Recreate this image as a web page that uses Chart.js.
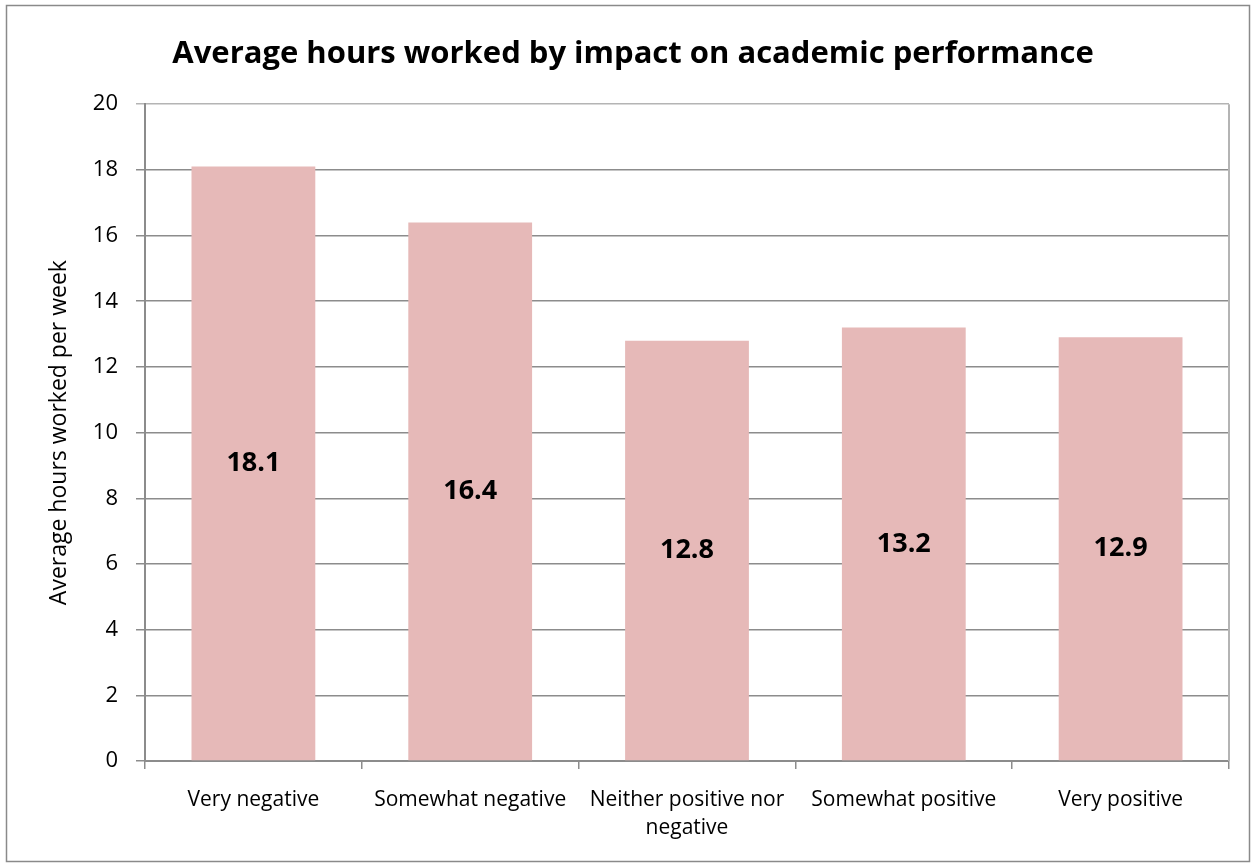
<!DOCTYPE html>
<html>
<head>
<meta charset="utf-8">
<script src="https://cdn.jsdelivr.net/npm/chart.js@4.4.0/dist/chart.umd.min.js"></script>
<style>
  html, body { margin: 0; padding: 0; background: #fff; }
  #wrap { position: relative; width: 1256px; height: 867px; }
</style>
</head>
<body>
<div id="wrap"><canvas id="c" width="1256" height="867"></canvas></div>
<script>
// ---------- data ----------
const categories = [
  "Very negative",
  "Somewhat negative",
  ["Neither positive nor", "negative"],
  "Somewhat positive",
  "Very positive",
];
const hours = [18.1, 16.4, 12.8, 13.2, 12.9];
const yTicks = [0, 2, 4, 6, 8, 10, 12, 14, 16, 18, 20];

const FONT = "'Open Sans', 'Noto Sans', sans-serif";
const BAR = "#e6b9b8";
const GRID = "#8c8c8c";

// outer frame + plot-area right edge + value labels in the bars
const extras = {
  id: "extras",
  beforeDraw(chart) {
    const ctx = chart.ctx;
    ctx.save();
    ctx.strokeStyle = "#8a8a8a";
    ctx.lineWidth = 1.5;
    ctx.strokeRect(6.5, 5.5, 1243, 856);
    ctx.restore();
  },
  afterDatasetsDraw(chart) {
    const ctx = chart.ctx;
    const a = chart.chartArea;
    ctx.save();
    ctx.strokeStyle = "#b4b4b4";
    ctx.lineWidth = 2;
    ctx.beginPath();
    ctx.moveTo(a.right, a.top);
    ctx.lineTo(a.right, a.bottom);
    ctx.stroke();

    ctx.fillStyle = "#000";
    ctx.font = "bold 27px " + FONT;
    ctx.textAlign = "center";
    ctx.textBaseline = "middle";
    chart.getDatasetMeta(0).data.forEach((bar, i) => {
      ctx.fillText(hours[i].toFixed(1), bar.x, (bar.y + bar.base) / 2);
    });
    ctx.restore();
  },
};

new Chart(document.getElementById("c"), {
  type: "bar",
  data: {
    labels: categories,
    datasets: [{
      data: hours,
      backgroundColor: BAR,
      categoryPercentage: 1,
      barPercentage: 0.571,
    }],
  },
  options: {
    responsive: false,
    animation: false,
    layout: { padding: { left: 37, right: 27, top: 0, bottom: 0 } },
    plugins: {
      legend: { display: false },
      tooltip: { enabled: false },
      title: {
        display: true,
        text: "Average hours worked by impact on academic performance",
        color: "#000",
        font: { family: FONT, size: 31, weight: "bold", lineHeight: 1.2 },
        padding: { top: 36, bottom: 31 },
      },
    },
    scales: {
      x: {
        offset: true,
        grid: {
          offset: true,
          drawOnChartArea: false,
          drawTicks: true,
          tickLength: 8,
          color: GRID,
          lineWidth: 1.5,
        },
        border: { color: GRID, width: 2 },
        ticks: {
          color: "#000",
          padding: 17,
          maxRotation: 0,
          autoSkip: false,
          font: { family: FONT, size: 21, lineHeight: 1.33 },
        },
        afterFit: (s) => { s.height = 867 - 761; },
      },
      y: {
        min: 0,
        max: 20,
        afterBuildTicks: (s) => { s.ticks = yTicks.map((v) => ({ value: v })); },
        grid: {
          color: (c) => (c.tick && c.tick.value === 20 ? "#b4b4b4" : GRID),
          lineWidth: 1.5,
          tickLength: 9,
        },
        border: { color: GRID, width: 2 },
        ticks: {
          color: "#000",
          padding: 18,
          font: { family: FONT, size: 22 },
        },
        title: {
          display: true,
          text: "Average hours worked per week",
          color: "#000",
          font: { family: FONT, size: 23, lineHeight: 1.2 },
          padding: { top: 9, bottom: 0 },
        },
        afterFit: (s) => { s.width = 145 - 37; },
      },
    },
  },
  plugins: [extras],
});
</script>
</body>
</html>
